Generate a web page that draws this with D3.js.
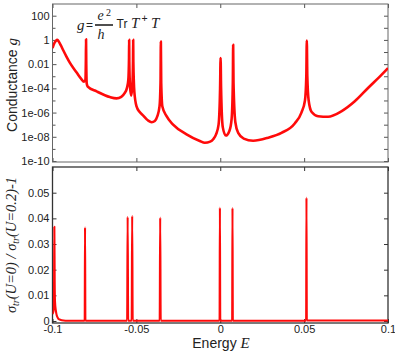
<!DOCTYPE html>
<html><head><meta charset="utf-8">
<script src="https://cdn.jsdelivr.net/npm/d3@7"></script>
<style>body{margin:0;background:#fff} svg{display:block}</style>
</head><body><svg id="c" width="395" height="356"></svg>
<script>
// ---- data ----
const energyG = [-0.1000,-0.0990,-0.0980,-0.0971,-0.0962,-0.0950,-0.0936,-0.0916,-0.0896,-0.0856,-0.0830,-0.0812,-0.0804,-0.0801,-0.0800,-0.0799,-0.0796,-0.0790,-0.0737,-0.0658,-0.0618,-0.0590,-0.0570,-0.0556,-0.0548,-0.0544,-0.0543,-0.0542,-0.0538,-0.0531,-0.0524,-0.0520,-0.0519,-0.0518,-0.0512,-0.0499,-0.0480,-0.0459,-0.0430,-0.0409,-0.0390,-0.0375,-0.0362,-0.0356,-0.0354,-0.0352,-0.0345,-0.0320,-0.0281,-0.0201,-0.0122,-0.0092,-0.0060,-0.0042,-0.0025,-0.0010,-0.0001,0.0002,0.0005,0.0015,0.0033,0.0055,0.0068,0.0075,0.0077,0.0079,0.0090,0.0107,0.0140,0.0196,0.0285,0.0365,0.0444,0.0484,0.0505,0.0513,0.0516,0.0519,0.0527,0.0545,0.0583,0.0643,0.0722,0.0802,0.0881,0.0961,0.1000];
const conductance = [0.21,0.5,0.83,1,0.71,0.35,0.14,0.04,1.26e-2,2.0e-3,6.3e-4,3.5e-4,5.0e-4,3.2e-2,1.12,3.2e-2,2.5e-4,1.4e-4,5.6e-5,1.9e-5,1.5e-5,2.0e-5,4.0e-5,1.1e-4,5.0e-4,3.2e-2,1,1.6e-2,1.6e-4,2.5e-5,1.6e-4,2.5e-2,1,1.6e-2,5.0e-5,3.2e-6,1.1e-6,5.6e-7,2.2e-7,1.6e-7,2.0e-7,5.0e-7,3.2e-6,3.2e-4,0.72,3.2e-4,3.2e-6,5.0e-7,1.0e-7,1.6e-8,4.5e-9,3.2e-9,4.0e-9,6.3e-9,1.6e-8,1.0e-7,1.0e-4,3.2e-2,1.0e-4,6.3e-8,1.26e-8,3.2e-8,3.2e-7,3.2e-4,0.39,3.2e-4,1.6e-7,2.1e-8,7.1e-9,4.7e-9,8.3e-9,2.1e-8,1.26e-7,1.0e-6,1.0e-5,1.0e-3,0.89,1.0e-3,1.0e-5,1.1e-6,5.0e-7,4.5e-7,1.26e-6,8.5e-6,1.07e-4,1.3e-3,4.7e-3];

const energyS = [-0.1000,-0.0994,-0.0991,-0.0989,-0.0987,-0.0985,-0.0980,-0.0975,-0.0968,-0.0960,-0.0945,-0.0900,-0.0808,-0.0806,-0.0804,-0.0555,-0.0552,-0.0549,-0.0528,-0.0525,-0.0522,-0.0361,-0.0358,-0.0355,-0.0004,-0.0002,0.0000,0.0071,0.0073,0.0075,0.0512,0.0514,0.0516,0.1000];
const ratio = [0.0027,0.0040,0.0100,0.0367,0.0150,0.0075,0.0040,0.0022,0.0012,0.0006,0.0003,0.0001,0.0001,0.0365,0.0001,0.0001,0.0406,0.0001,0.0001,0.0410,0.0001,0.0001,0.0403,0.0001,0.0001,0.0442,0.0001,0.0001,0.0441,0.0001,0.0001,0.0481,0.0002,0.0002];

const xTickValues = [-0.1,-0.05,0,0.05,0.1];
const xTickLabels = ["-0.1","-0.05","0","0.05","0.1"];
const gTickValues = [1e-10,1e-8,1e-6,1e-4,1e-2,1,100];
const gTickLabels = ["1e-10","1e-08","1e-06","1e-04","0.01","1","100"];
const gMinorTicks = [1e-9,1e-7,1e-5,1e-3,1e-1,10];
const sTickValues = [0,0.01,0.02,0.03,0.04,0.05];
const sTickLabels = ["0","0.01","0.02","0.03","0.04","0.05"];

// ---- layout ----
const svg = d3.select("#c");
const L = 52.5, R = 388, T1 = 4, B1 = 162, T2 = 167, B2 = 323;
const x = d3.scaleLinear().domain([-0.1, 0.1]).range([L, R]);
const yG = d3.scaleLog().domain([1e-10, 100]).range([161, 15.7]);
const yS = d3.scaleLinear().domain([0, 0.05]).range([321, 192.7]);
const SANS = "'Liberation Sans', Arial, Helvetica, sans-serif";
const SERIF = "'Liberation Serif', 'Times New Roman', serif";

const defs = svg.append("defs");
defs.append("clipPath").attr("id","clipTop").append("rect").attr("x",L).attr("y",T1).attr("width",R-L).attr("height",B1-T1);
defs.append("clipPath").attr("id","clipBot").append("rect").attr("x",L).attr("y",T2).attr("width",R-L).attr("height",B2-T2);

function styleAxis(g, color) {
  g.select(".domain").remove();
  g.selectAll(".tick line").attr("stroke", color).attr("stroke-width", 1);
  g.selectAll(".tick text").attr("fill", "#222").style("font-family", SANS).style("font-size", "11px");
}
const lbl = (vals, labs) => d => labs[vals.indexOf(d)];

// top panel axes
svg.append("g").attr("transform",`translate(${L},0)`)
  .call(d3.axisLeft(yG).tickValues(gTickValues).tickFormat(lbl(gTickValues,gTickLabels)).tickSizeInner(-4).tickSizeOuter(0).tickPadding(3))
  .call(g=>styleAxis(g,"#555"));
svg.append("g").attr("transform",`translate(${L},0)`)
  .call(d3.axisLeft(yG).tickValues(gMinorTicks).tickFormat("").tickSizeInner(-3).tickSizeOuter(0))
  .call(g=>styleAxis(g,"#555"));
svg.append("g").attr("transform",`translate(${R},0)`)
  .call(d3.axisRight(yG).tickValues(gTickValues.concat(gMinorTicks)).tickFormat("").tickSizeInner(-4).tickSizeOuter(0))
  .call(g=>styleAxis(g,"#555"));
svg.append("g").attr("transform",`translate(0,${T1})`)
  .call(d3.axisTop(x).tickValues(xTickValues).tickFormat("").tickSizeInner(-4).tickSizeOuter(0))
  .call(g=>styleAxis(g,"#555"));
svg.append("g").attr("transform",`translate(0,${B1})`)
  .call(d3.axisBottom(x).tickValues(xTickValues).tickFormat("").tickSizeInner(-4).tickSizeOuter(0))
  .call(g=>styleAxis(g,"#555"));
svg.append("rect").attr("x",L).attr("y",T1).attr("width",R-L).attr("height",B1-T1)
  .attr("fill","none").attr("stroke","#666").attr("stroke-width",1);

// bottom panel axes
svg.append("g").attr("transform",`translate(${L},0)`)
  .call(d3.axisLeft(yS).tickValues(sTickValues).tickFormat(lbl(sTickValues,sTickLabels)).tickSizeInner(-4).tickSizeOuter(0).tickPadding(3))
  .call(g=>styleAxis(g,"#333"));
svg.append("g").attr("transform",`translate(${R},0)`)
  .call(d3.axisRight(yS).tickValues(sTickValues).tickFormat("").tickSizeInner(-4).tickSizeOuter(0))
  .call(g=>styleAxis(g,"#333"));
svg.append("g").attr("transform",`translate(0,${T2})`)
  .call(d3.axisTop(x).tickValues(xTickValues).tickFormat("").tickSizeInner(-4).tickSizeOuter(0))
  .call(g=>styleAxis(g,"#333"));
svg.append("g").attr("transform",`translate(0,${B2})`)
  .call(d3.axisBottom(x).tickValues(xTickValues).tickFormat(lbl(xTickValues,xTickLabels)).tickSizeInner(-4).tickSizeOuter(0).tickPadding(2))
  .call(g=>styleAxis(g,"#333"));
svg.append("rect").attr("x",L).attr("y",T2).attr("width",R-L).attr("height",B2-T2)
  .attr("fill","none").attr("stroke","#333").attr("stroke-width",1.3);

// lines
const lineG = d3.line().x((d,i)=>x(energyG[i])).y(d=>yG(d)).curve(d3.curveMonotoneX);
svg.append("path").datum(conductance).attr("clip-path","url(#clipTop)")
  .attr("d", lineG).attr("fill","none").attr("stroke","#ff0a0a").attr("stroke-width",2.6).attr("stroke-linejoin","round");
const lineS = d3.line().x((d,i)=>x(energyS[i])).y(d=>yS(d)).curve(d3.curveMonotoneX);
svg.append("path").datum(ratio).attr("clip-path","url(#clipBot)")
  .attr("d", lineS).attr("fill","none").attr("stroke","#ff0a0a").attr("stroke-width",2.1).attr("stroke-linejoin","round");

// axis titles
const t1 = svg.append("text").attr("transform","translate(16.5,85) rotate(-90)").attr("text-anchor","middle")
  .style("font-family",SANS).style("font-size","14px").attr("fill","#222");
t1.append("tspan").text("Conductance ");
t1.append("tspan").style("font-family",SERIF).style("font-style","italic").style("font-size","15px").text("g");

const t2 = svg.append("text").attr("transform","translate(16,245) rotate(-90)").attr("text-anchor","middle")
  .style("font-family",SERIF).style("font-style","italic").style("font-size","14.5px").attr("fill","#222");
t2.append("tspan").text("σ");
t2.append("tspan").attr("dy",3).style("font-size","10px").text("tr");
t2.append("tspan").attr("dy",-3).text("(U=0) / σ");
t2.append("tspan").attr("dy",3).style("font-size","10px").text("tr");
t2.append("tspan").attr("dy",-3).text("(U=0.2)-1");

const t3 = svg.append("text").attr("x",221).attr("y",348).attr("text-anchor","middle")
  .style("font-family",SANS).style("font-size","14px").attr("fill","#222");
t3.append("tspan").text("Energy ");
t3.append("tspan").style("font-family",SERIF).style("font-style","italic").style("font-size","15px").text("E");

// formula
const f = svg.append("g").attr("fill","#222");
f.append("text").attr("x",77).attr("y",30).style("font-family",SERIF).style("font-style","italic").style("font-size","15px").text("g");
f.append("text").attr("x",86).attr("y",29).style("font-family",SANS).style("font-size","12px").text("=");
f.append("line").attr("x1",95).attr("x2",113).attr("y1",25).attr("y2",25).attr("stroke","#222").attr("stroke-width",1.6);
f.append("text").attr("x",97.5).attr("y",19.5).style("font-family",SERIF).style("font-style","italic").style("font-size","14px").text("e");
f.append("text").attr("x",106).attr("y",15.5).style("font-family",SERIF).style("font-size","10px").text("2");
f.append("text").attr("x",97.5).attr("y",38.5).style("font-family",SERIF).style("font-style","italic").style("font-size","14px").text("h");
f.append("text").attr("x",116.5).attr("y",27.5).style("font-family",SANS).style("font-size","12px").text("Tr");
f.append("text").attr("x",131).attr("y",27.5).style("font-family",SERIF).style("font-style","italic").style("font-size","15px").text("T");
f.append("text").attr("x",141.5).attr("y",22).style("font-family",SANS).style("font-size","10.5px").text("+");
f.append("text").attr("x",151).attr("y",27.5).style("font-family",SERIF).style("font-style","italic").style("font-size","15px").text("T");
</script></body></html>
